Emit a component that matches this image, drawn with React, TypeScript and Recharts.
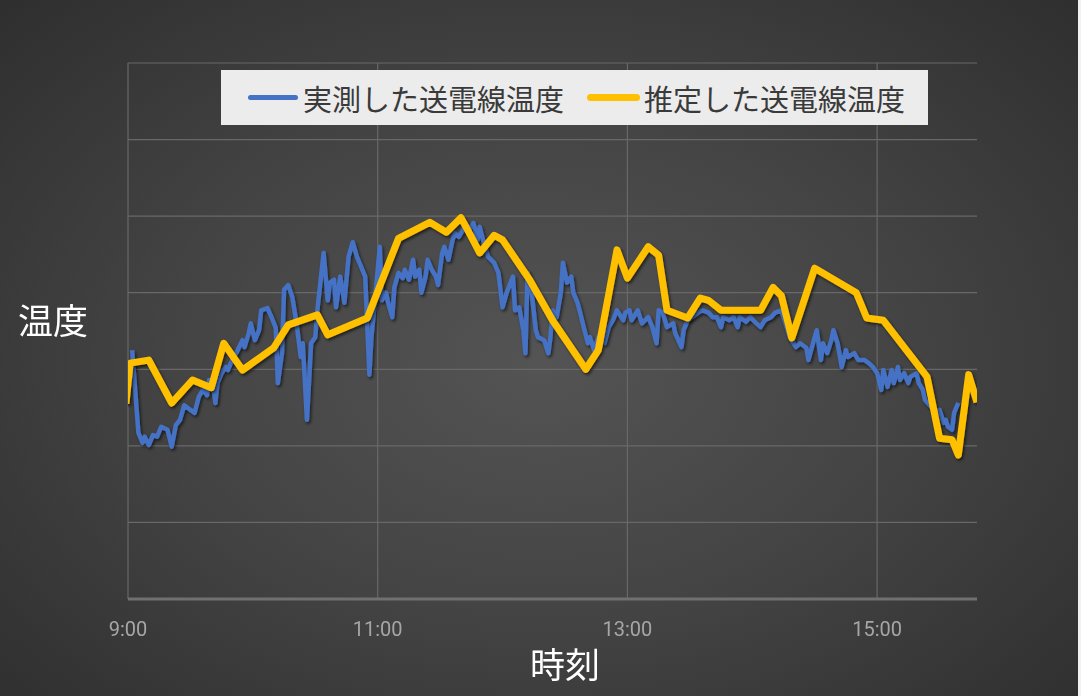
import { LineChart, Line, XAxis, YAxis, CartesianGrid, ReferenceLine } from 'recharts';

// series names as shown in the legend
const seriesNames = ['実測した送電線温度', '推定した送電線温度'];
const seriesColors = ['#4472C4', '#FFC000'];

// x = minutes after 9:00, y = temperature (axis has no labels in the original)
const xTicks = [0, 120, 240, 360];
const yTicks = [0, 10, 20, 30, 40, 50, 60, 70];

const measuredMinutes = [
  2, 5, 7, 8, 10, 12, 14, 16, 19, 21,
  23, 25, 27, 30, 32, 34, 36, 38, 39, 41,
  42, 43, 45, 47, 48, 50, 52, 55, 56, 58,
  59, 61, 63, 64, 67, 69, 71, 72, 74, 75,
  77, 79, 81, 83, 84, 86, 88, 90, 91, 94,
  96, 97, 99, 100, 102, 104, 106, 108, 110, 112,
  114, 115, 116, 117, 120, 121, 122, 124, 125, 127,
  128, 130, 132, 133, 135, 137, 138, 140, 141, 143,
  144, 146, 148, 149, 151, 152, 154, 156, 157, 159,
  161, 162, 164, 166, 168, 169, 171, 173, 176, 178,
  180, 182, 185, 186, 188, 190, 191, 192, 194, 196,
  197, 200, 202, 203, 204, 206, 208, 209, 211, 213,
  214, 216, 217, 219, 221, 222, 224, 226, 229, 231,
  233, 235, 238, 239, 241, 242, 245, 247, 250, 252,
  254, 255, 257, 259, 262, 263, 266, 267, 269, 271,
  274, 276, 279, 281, 283, 285, 286, 289, 291, 293,
  294, 297, 299, 302, 304, 306, 309, 311, 314, 316,
  318, 321, 323, 326, 327, 330, 331, 333, 334, 336,
  338, 339, 341, 343, 345, 346, 349, 351, 354, 356,
  358, 360, 362, 363, 365, 367, 368, 370, 371, 373,
  375, 376, 379, 380, 382, 383, 386, 388, 390, 392,
  393, 394, 396, 397, 399,
];

const measuredTemp = [
  32.5, 21.7, 20.4, 21.2, 20.1, 21.4, 21.2, 22.5, 22.1, 19.9,
  22.7, 23.4, 25.3, 24.7, 24.3, 26.4, 27.3, 26.6, 28.6, 27.9,
  25.6, 28.2, 29.5, 30.3, 29.9, 31.2, 32.1, 33.8, 32.9, 34.7,
  36.0, 33.8, 35.1, 37.7, 38.0, 36.8, 35.4, 28.2, 32.1, 40.4,
  41.0, 39.4, 36.0, 31.6, 33.4, 23.4, 33.4, 34.2, 37.7, 45.2,
  39.0, 41.3, 41.7, 38.1, 42.1, 38.7, 44.7, 46.6, 44.7, 43.4,
  42.1, 35.5, 29.3, 34.2, 43.0, 46.0, 39.0, 40.0, 38.7, 36.8,
  40.7, 42.6, 41.9, 43.0, 41.7, 44.3, 42.1, 43.0, 40.0, 42.1,
  44.3, 43.0, 42.1, 41.0, 45.2, 46.0, 44.3, 46.9, 47.8, 47.3,
  48.2, 49.1, 48.2, 49.1, 46.9, 48.6, 46.5, 44.7, 43.9, 42.6,
  38.1, 40.0, 42.1, 37.7, 38.1, 35.1, 32.1, 42.6, 40.0, 35.1,
  34.2, 33.8, 32.1, 34.2, 37.7, 36.8, 40.0, 43.9, 41.3, 42.1,
  40.0, 38.7, 37.7, 35.5, 33.4, 34.2, 32.5, 34.2, 33.4, 35.5,
  36.4, 37.7, 36.4, 37.4, 37.7, 36.4, 37.7, 36.0, 36.8, 35.5,
  33.4, 37.7, 37.4, 35.5, 36.0, 34.7, 32.9, 35.1, 36.4, 36.8,
  37.4, 37.7, 37.4, 36.8, 36.8, 35.5, 36.8, 36.4, 36.8, 35.5,
  36.8, 36.2, 36.8, 36.0, 35.5, 36.4, 36.8, 37.4, 37.7, 36.0,
  34.2, 32.9, 33.4, 32.8, 31.2, 34.2, 35.1, 31.2, 33.4, 32.1,
  33.8, 35.1, 33.4, 30.3, 32.5, 31.6, 32.1, 31.2, 31.2, 30.8,
  30.3, 29.5, 27.3, 29.9, 27.7, 29.9, 28.2, 30.3, 28.6, 29.5,
  28.2, 29.0, 29.5, 28.2, 27.3, 26.0, 25.1, 24.3, 24.7, 23.0,
  23.4, 22.5, 22.1, 24.3, 25.6,
];

const estimatedMinutes = [
  -1, 1, 10, 21, 31, 40, 46, 55, 70, 77,
  91, 96, 115, 130, 145, 153, 160, 165, 169, 176,
  180, 193, 204, 220, 226, 235, 240, 250, 255, 259,
  269, 275, 279, 285, 304, 310, 314, 319, 330, 350,
  355, 363, 384, 390, 396, 399, 404, 408,
];

const estimatedTemp = [
  25.5, 30.8, 31.2, 25.6, 28.6, 27.6, 33.4, 29.9, 32.8, 35.8,
  37.1, 34.5, 36.7, 47.1, 49.2, 47.9, 49.8, 47.3, 45.2, 47.5,
  46.9, 41.7, 36.4, 30.0, 32.5, 45.6, 41.9, 46.0, 44.9, 37.7,
  36.7, 39.3, 39.0, 37.7, 37.7, 40.7, 39.6, 34.1, 43.2, 40.0,
  36.7, 36.4, 29.0, 21.0, 20.8, 18.8, 29.3, 25.7,
];

const measured = measuredMinutes.map((t, i) => ({ t, temp: measuredTemp[i] }));
const estimated = estimatedMinutes.map((t, i) => ({ t, temp: estimatedTemp[i] }));

const formatTime = (m: number) => `${9 + Math.floor(m / 60)}:${String(m % 60).padStart(2, '0')}`;

const jpFont = '"Noto Sans CJK JP", "Noto Sans", sans-serif';
const gridColor = '#686868';

export default function App() {
  return (
    <div
      style={{
        position: 'fixed',
        left: 0,
        top: 0,
        width: 1081,
        height: 696,
        overflow: 'hidden',
        background: 'radial-gradient(ellipse 75% 80% at 50% 52%, #545454 0%, #444444 45%, #323232 85%, #2c2c2c 100%)',
      }}
    >
      <svg width={0} height={0} style={{ position: 'absolute' }}>
        <defs>
          <filter id="lineShadow" x="-5%" y="-20%" width="110%" height="140%">
            <feDropShadow dx="1.5" dy="2" stdDeviation="1.8" floodColor="#000" floodOpacity="0.6" />
          </filter>
        </defs>
      </svg>
      <style>{`.recharts-line-curve { filter: url(#lineShadow); }`}</style>

      <LineChart width={1081} height={696} margin={{ top: 63, right: 104, bottom: 67, left: 128 }}>
        <CartesianGrid stroke={gridColor} strokeWidth={1.2} vertical={false} />
        {xTicks.map((t) => (
          <ReferenceLine key={t} x={t} stroke={gridColor} strokeWidth={1.2} />
        ))}
        <XAxis
          type="number"
          dataKey="t"
          domain={[0, 408]}
          allowDataOverflow
          ticks={xTicks}
          tickFormatter={formatTime}
          tickLine={false}
          axisLine={{ stroke: '#707070', strokeWidth: 3 }}
          tick={{ fill: '#a6a6a6', fontSize: 20, fontFamily: 'Roboto' }}
          tickMargin={17}
          height={30}
        />
        <YAxis hide type="number" domain={[0, 70]} ticks={yTicks} />
        <Line
          data={measured}
          dataKey="temp"
          name={seriesNames[0]}
          type="linear"
          stroke={seriesColors[0]}
          strokeWidth={4.5}
          strokeLinejoin="round"
          dot={false}
          isAnimationActive={false}
        />
        <Line
          data={estimated}
          dataKey="temp"
          name={seriesNames[1]}
          type="linear"
          stroke={seriesColors[1]}
          strokeWidth={7}
          strokeLinejoin="round"
          dot={false}
          isAnimationActive={false}
        />
      </LineChart>

      {/* legend */}
      <div
        style={{
          position: 'absolute',
          left: 221,
          top: 70,
          width: 707,
          height: 55,
          background: '#ececec',
          display: 'flex',
          alignItems: 'center',
          fontFamily: jpFont,
          fontSize: 29,
          color: '#3a3a3a',
        }}
      >
        <div style={{ marginLeft: 27, width: 50, height: 5, borderRadius: 3, background: seriesColors[0] }} />
        <span style={{ marginLeft: 5, whiteSpace: 'nowrap' }}>{seriesNames[0]}</span>
        <div style={{ marginLeft: 23, width: 53, height: 7, borderRadius: 4, background: seriesColors[1] }} />
        <span style={{ marginLeft: 4, whiteSpace: 'nowrap' }}>{seriesNames[1]}</span>
      </div>

      {/* axis titles */}
      <div style={{ position: 'absolute', left: 18, top: 300, fontFamily: jpFont, fontSize: 35, lineHeight: '38px', color: '#ffffff' }}>
        温度
      </div>
      <div style={{ position: 'absolute', left: 530, top: 644, fontFamily: jpFont, fontSize: 35, lineHeight: '38px', color: '#ffffff' }}>
        時刻
      </div>

      <div style={{ position: 'absolute', left: 1078, top: 0, width: 3, height: 696, background: '#f2f2f2' }} />
    </div>
  );
}
